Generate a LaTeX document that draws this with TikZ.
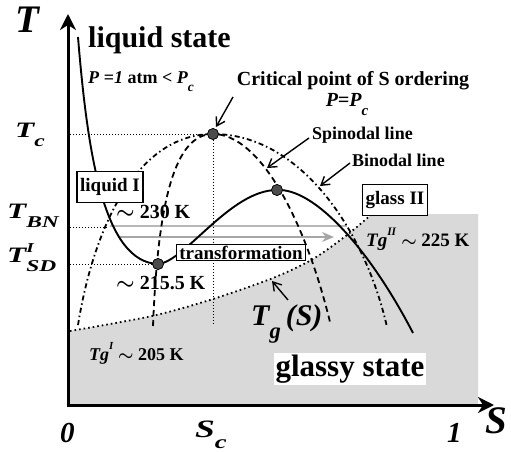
\documentclass[tikz,border=0pt]{standalone}
\usepackage{fontspec}
\setmainfont{Liberation Serif}
\usepackage{graphicx}
\usetikzlibrary{arrows.meta}
\newcommand\fs[1]{\fontsize{#1}{#1}\selectfont}
\newcommand\lo[1]{\raisebox{-0.45em}{\scalebox{0.75}{#1}}}
\newcommand\hi[1]{\raisebox{0.6em}{\scalebox{0.6}{#1}}}
\newcommand\wide[1]{\scalebox{1.42}[1]{#1}}
\newcommand\tld{{\boldmath$\sim$}}
\definecolor{glassfill}{gray}{0.85}
\definecolor{darkdot}{gray}{0.3}
\definecolor{lgline}{gray}{0.72}
\definecolor{garrow}{gray}{0.65}
\tikzset{
  ax/.style={line width=3pt,-{Stealth[length=16pt,width=16pt,inset=5pt]}},
  refl/.style={line width=1pt,dash pattern=on 1pt off 2pt},
  spin/.style={line width=1.8pt,dash pattern=on 6pt off 4pt},
  bino/.style={line width=1.8pt,dash pattern=on 5pt off 3pt on 1.5pt off 3pt},
  tgline/.style={line width=1.8pt,dash pattern=on 1.6pt off 3pt},
  mainc/.style={line width=1.9pt},
  lbl/.style={draw,line width=1.4pt,fill=white,inner xsep=3pt,inner ysep=7pt,font=\fs{19}\bfseries},
  dotc/.style={circle,fill=darkdot,draw=black,line width=0.6pt,minimum size=11pt,inner sep=0pt},
  ptr/.style={line width=1.4pt,-{Straight Barb[length=8pt,width=10pt,line width=1.4pt]}},
  txt/.style={inner sep=0pt,font=\bfseries},
  axl/.style={inner sep=0pt,anchor=base west,font=\fs{22}\bfseries\itshape},
}
\begin{document}
\begin{tikzpicture}[x=1pt,y=-1pt]
\useasboundingbox (0,0) rectangle (511,452);
% glassy region
\fill[glassfill] (70,405) -- (70,331) -- plot[smooth] coordinates {(70,331) (152,316) (213,299) (273,278) (313,259) (347,235) (372,214)} -- (478,214) -- (478,405) -- cycle;
% reference dotted lines
\coordinate (tc) at (70,134);
\coordinate (tbn) at (70,227);
\coordinate (tsd) at (70,264);
\coordinate (bnx) at (108,227);
\coordinate (scb) at (213,325);
\node[dotc] (cp) at (213,134) {};
\node[dotc] (sd) at (158,264) {};
\node[dotc] (pk) at (277,190) {};
\draw[refl] (tc) -- (cp);
\draw[refl] (cp) -- (scb);
\draw[refl] (tbn) -- (bnx);
\draw[refl] (tsd) -- (sd);
% gray lines
\coordinate (gl1) at (110,226);
\coordinate (gl2) at (347,226);
\draw[lgline,line width=1.6pt] (gl1) -- (gl2);
\coordinate (ga) at (118,237);
\coordinate (gb) at (334,237);
\draw[garrow,line width=2.6pt,-{Stealth[length=12pt,width=10pt]}] (ga) -- (gb);
% Tg(S)
\draw[tgline] plot[smooth] coordinates {(70,331) (152,316) (213,299) (273,278) (313,259) (347,235) (372,214)};
% binodal
\draw[bino] (78,325) .. controls (95,220) and (140,134) .. (cp.center) .. controls (300,134) and (365,230) .. (387,327);
% spinodal
\draw[spin] (153,326) .. controls (158,200) and (175,134) .. (cp.center) .. controls (260,134) and (305,220) .. (330,322);
% main curve
\draw[mainc] (78,37) .. controls (88,160) and (105,262) .. (sd.center) .. controls (185,262) and (230,190) .. (pk.center) .. controls (315,188) and (370,250) .. (413,333);
% redraw dots on top
\node[dotc] at (cp) {};
\node[dotc] at (sd) {};
\node[dotc] at (pk) {};
% axes
\coordinate (o) at (68,405);
\coordinate (o2) at (66.5,405);
\coordinate (ytip) at (68,14);
\coordinate (xtip) at (494,405);
\draw[ax] (o) -- (ytip);
\draw[ax] (o2) -- (xtip);
% boxes
\node[lbl] (liqI) at (110,187) {liquid I};
\node[lbl,inner ysep=1.5pt] (trans) at (241,252.5) {transformation};
\node[lbl] (glII) at (395,200) {glass II};
\node[txt,fill=white,inner sep=2pt,font=\fs{31}\bfseries] (glassy) at (350,369) {glassy state};
% axis labels
\node[axl,font=\fs{39}\bfseries\itshape] (T) at (15,33) {T};
\node[axl,font=\fs{39}\bfseries\itshape] (S) at (485,433) {S};
\node[axl,font=\fs{29}\bfseries\itshape] (zero) at (60,442) {0};
\node[axl,font=\fs{29}\bfseries\itshape] (one) at (447,442) {1};
\node[axl,font=\fs{25}\bfseries\itshape] (Sc) at (195,437) {\wide{S\lo{c}}};
\node[axl] (Tc) at (15,137) {\wide{T\lo{c}}};
\node[axl] (TBN) at (7,218) {\wide{T\lo{BN}}};
\node[axl] (TSD) at (7,262) {\wide{T\makebox[0pt][l]{\raisebox{0.42em}{\scalebox{0.62}{I}}}\lo{SD}}};
% texts
\node[txt,font=\fs{30}\bfseries,anchor=west] (liqs) at (88,40) {liquid state};
\node[txt,font=\fs{18}\bfseries,anchor=west] (patm) at (88,82) {\textit{P} =\textit{1} atm < \textit{P}\lo{\textit{c}}};
\node[txt,font=\fs{20}\bfseries] (crit) at (353,81) {Critical point of S ordering};
\node[txt,font=\fs{20}\bfseries\itshape] (ppc) at (347,105) {P=P\lo{c}};
\node[txt,font=\fs{18}\bfseries,anchor=west] (spl) at (312,135) {Spinodal line};
\node[txt,font=\fs{18}\bfseries,anchor=west] (bnl) at (352,160) {Binodal line};
\node[txt,font=\fs{20}\bfseries,anchor=west] (k230) at (116,212) {\tld\ 230 K};
\node[txt,font=\fs{20}\bfseries,anchor=west] (k215) at (116,283) {\tld\ 215.5 K};
\node[txt,font=\fs{19}\bfseries,anchor=west] (k225) at (366,239) {\textit{Tg}\hi{\textit{II}}\ \tld\ 225 K};
\node[txt,font=\fs{18}\bfseries,anchor=west] (k205) at (89,353) {\textit{Tg}\hi{\textit{I}}\ \tld\ 205 K};
\node[axl,font=\fs{30}\bfseries\itshape] (tgs) at (251,325) {T\lo{g}\,(S)};
% pointers
\coordinate (p1a) at (233,97);  \coordinate (p1b) at (216,127);
\coordinate (p2a) at (309,138); \coordinate (p2b) at (267,168);
\coordinate (p3a) at (350,163); \coordinate (p3b) at (320,186);
\coordinate (p4a) at (288,300); \coordinate (p4b) at (272,281);
\draw[ptr] (p1a) -- (p1b);
\draw[ptr] (p2a) -- (p2b);
\draw[ptr] (p3a) -- (p3b);
\draw[ptr] (p4a) -- (p4b);
\end{tikzpicture}
\end{document}
